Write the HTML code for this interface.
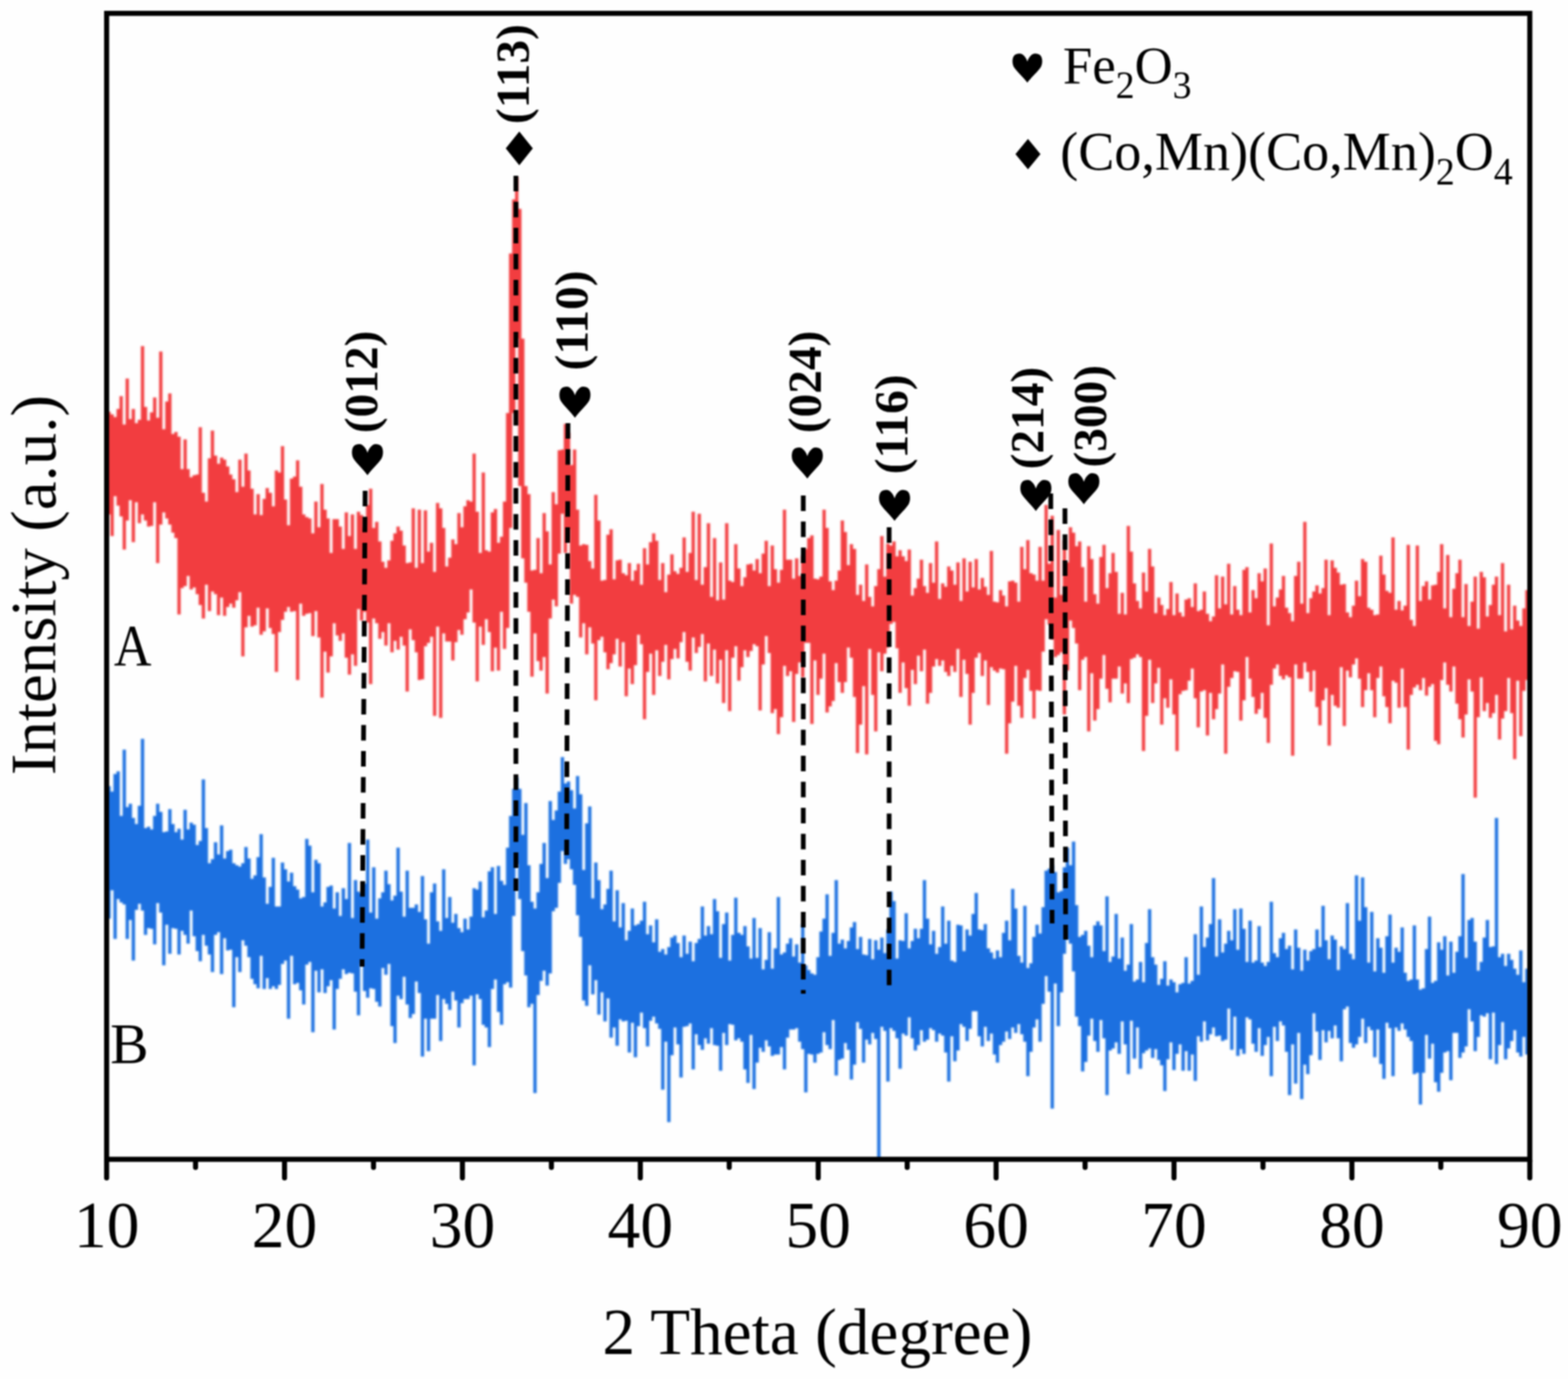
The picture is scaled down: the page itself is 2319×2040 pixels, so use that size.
<!DOCTYPE html>
<html><head><meta charset="utf-8"><title>XRD</title>
<style>html,body{margin:0;padding:0;background:#fefefe;} body{width:2319px;height:2040px;overflow:hidden;} svg{display:block;filter:blur(0.9px);}</style>
</head><body>
<svg width="2319" height="2040" viewBox="0 0 2319 2040"><defs><filter id="bl" x="-2%" y="-10%" width="104%" height="120%"><feGaussianBlur stdDeviation="1.0"/></filter></defs>
<path d="M161.2 1163V1359M165.8 1171V1317M170.2 1145V1389M174.8 1141V1330M179.2 1207V1335M183.8 1109V1338M188.2 1194V1389M192.8 1189V1361M197.2 1210V1421M201.8 1219V1346M206.2 1192V1337M210.8 1093V1347M215.2 1225V1383M219.8 1223V1373M224.2 1227V1374M228.8 1207V1397M233.2 1189V1336M237.8 1201V1350M242.2 1231V1428M246.8 1230V1368M251.2 1197V1411M255.8 1219V1373M260.2 1231V1374M264.8 1226V1412M269.2 1242V1377M273.8 1198V1383M278.2 1227V1396M282.8 1217V1347M287.2 1220V1385M291.8 1250V1407M296.2 1244V1422M300.8 1153V1383M305.2 1225V1399M309.8 1277V1412M314.2 1271V1438M318.8 1246V1383M323.2 1264V1379M327.8 1221V1441M332.2 1270V1388M336.8 1259V1406M341.2 1257V1405M345.8 1277V1490M350.2 1280V1416M354.8 1282V1438M359.2 1277V1391M363.8 1253V1399M368.2 1270V1416M372.8 1300V1448M377.2 1295V1456M381.8 1268V1462M386.2 1234V1414M390.8 1298V1463M395.2 1337V1447M399.8 1312V1463M404.2 1269V1459M408.8 1341V1463M413.2 1341V1457M417.8 1276V1426M422.2 1286V1421M426.8 1304V1507M431.2 1291V1414M435.8 1311V1456M440.2 1316V1454M444.8 1329V1465M449.2 1327V1486M453.8 1241V1427M458.2 1251V1423M462.8 1320V1527M467.2 1272V1436M471.8 1277V1468M476.2 1341V1434M480.8 1335V1469M485.2 1312V1459M489.8 1310V1450M494.2 1344V1523M498.8 1320V1463M503.2 1355V1448M507.8 1314V1434M512.2 1330V1441M516.8 1247V1439M521.2 1358V1440M525.8 1302V1467M530.2 1319V1502M534.8 1322V1426M539.2 1307V1466M543.8 1242V1476M548.2 1350V1462M552.8 1283V1463M557.2 1359V1482M561.8 1329V1489M566.2 1320V1432M570.8 1288V1442M575.2 1308V1426M579.8 1332V1518M584.2 1325V1543M588.8 1254V1473M593.2 1319V1478M597.8 1356V1445M602.2 1288V1486M606.8 1343V1506M611.2 1343V1500M615.8 1338V1452M620.2 1349V1469M624.8 1296V1563M629.2 1360V1507M633.8 1396V1555M638.2 1320V1507M642.8 1307V1507M647.2 1363V1472M651.8 1377V1540M656.2 1286V1478M660.8 1358V1485M665.2 1327V1494M669.8 1365V1467M674.2 1352V1480M678.8 1373V1520M683.2 1379V1484M687.8 1359V1478M692.2 1375V1478M696.8 1356V1473M701.2 1314V1576M705.8 1316V1471M710.2 1304V1478M714.8 1357V1516M719.2 1347V1520M723.8 1289V1549M728.2 1283V1463M732.8 1352V1449M737.2 1281V1497M741.8 1303V1516M746.2 1309V1456M750.8 1254V1453M755.2 1207V1461M759.8 1167V1355M764.2 1150V1278M768.8 1167V1330M773.2 1235V1407M777.8 1188V1443M782.2 1280V1490M786.8 1334V1485M791.2 1344V1617M795.8 1320V1472M800.2 1278V1451M804.8 1247V1436M809.2 1299V1458M813.8 1185V1440M818.2 1213V1348M822.8 1199V1343M827.2 1171V1306M831.8 1120V1259M836.2 1159V1278M840.8 1156V1271M845.2 1169V1286M849.8 1196V1309M854.2 1148V1354M858.8 1175V1386M863.2 1287V1480M867.8 1218V1488M872.2 1193V1428M876.8 1329V1471M881.2 1276V1450M885.8 1302V1501M890.2 1345V1468M894.8 1338V1511M899.2 1315V1477M903.8 1288V1535M908.2 1363V1520M912.8 1317V1547M917.2 1372V1508M921.8 1336V1511M926.2 1391V1510M930.8 1377V1557M935.2 1344V1513M939.8 1369V1564M944.2 1367V1518M948.8 1362V1498M953.2 1334V1521M957.8 1382V1548M962.2 1369V1510M966.8 1394V1504M971.2 1360V1514M975.8 1408V1522M980.2 1404V1612M984.8 1412V1541M989.2 1401V1660M993.8 1387V1561M998.2 1384V1520M1002.8 1395V1545M1007.2 1416V1594M1011.8 1384V1519M1016.2 1411V1518M1020.8 1393V1514M1025.2 1422V1582M1029.8 1395V1530M1034.2 1389V1546M1038.8 1341V1553M1043.2 1384V1536M1047.8 1370V1544M1052.2 1382V1521M1056.8 1330V1546M1061.2 1348V1547M1065.8 1417V1584M1070.2 1367V1528M1074.8 1350V1546M1079.2 1421V1515M1083.8 1383V1516M1088.2 1328V1539M1092.8 1380V1536M1097.2 1383V1541M1101.8 1370V1582M1106.2 1400V1602M1110.8 1418V1531M1115.2 1358V1611M1119.8 1417V1572M1124.2 1373V1550M1128.8 1434V1556M1133.2 1420V1539M1137.8 1379V1548M1142.2 1433V1562M1146.8 1403V1560M1151.2 1327V1560M1155.8 1412V1549M1160.2 1409V1582M1164.8 1396V1535M1169.2 1388V1523M1173.8 1415V1523M1178.2 1397V1521M1182.8 1424V1541M1187.2 1367V1552M1191.8 1428V1616M1196.2 1435V1559M1200.8 1440V1560M1205.2 1442V1572M1209.8 1416V1559M1214.2 1378V1557M1218.8 1359V1527M1223.2 1323V1546M1227.8 1414V1552M1232.2 1380V1509M1236.8 1302V1591M1241.2 1396V1568M1245.8 1390V1566M1250.2 1403V1543M1254.8 1392V1553M1259.2 1372V1597M1263.8 1364V1575M1268.2 1404V1512M1272.8 1386V1522M1277.2 1412V1572M1281.8 1413V1538M1286.2 1389V1545M1290.8 1419V1528M1295.2 1391V1537M1299.8 1405V1713M1304.2 1387V1519M1308.8 1410V1525M1313.2 1375V1600M1317.8 1319V1521M1322.2 1333V1525M1326.8 1418V1536M1331.2 1391V1581M1335.8 1392V1529M1340.2 1351V1532M1344.8 1403V1505M1349.2 1392V1536M1353.8 1374V1554M1358.2 1388V1546M1362.8 1374V1524M1367.2 1302V1541M1371.8 1359V1538M1376.2 1397V1521M1380.8 1377V1524M1385.2 1411V1541M1389.8 1401V1529M1394.2 1341V1532M1398.8 1396V1557M1403.2 1362V1600M1407.8 1421V1533M1412.2 1423V1570M1416.8 1368V1554M1421.2 1369V1515M1425.8 1407V1519M1430.2 1375V1540M1434.8 1384V1522M1439.2 1352V1496M1443.8 1321V1496M1448.2 1375V1533M1452.8 1376V1548M1457.2 1367V1519M1461.8 1403V1540M1466.2 1409V1529M1470.8 1418V1560M1475.2 1406V1572M1479.8 1416V1546M1484.2 1380V1541M1488.8 1362V1526M1493.2 1391V1537M1497.8 1315V1520M1502.2 1344V1528M1506.8 1414V1515M1511.2 1424V1530M1515.8 1340V1541M1520.2 1432V1592M1524.8 1425V1556M1529.2 1386V1520M1533.8 1368V1508M1538.2 1381V1541M1542.8 1342V1485M1547.2 1288V1444M1551.8 1285V1467M1556.2 1280V1640M1560.8 1290V1455M1565.2 1320V1518M1569.8 1318V1468M1574.2 1283V1411M1578.8 1254V1390M1583.2 1280V1396M1587.8 1245V1437M1592.2 1339V1504M1596.8 1386V1518M1601.2 1383V1585M1605.8 1377V1571M1610.2 1399V1532M1614.8 1416V1507M1619.2 1369V1540M1623.8 1363V1556M1628.2 1369V1509M1632.8 1407V1536M1637.2 1326V1620M1641.8 1423V1554M1646.2 1415V1551M1650.8 1352V1542M1655.2 1418V1559M1659.8 1387V1511M1664.2 1436V1545M1668.8 1427V1589M1673.2 1367V1510M1677.8 1452V1566M1682.2 1449V1520M1686.8 1423V1581M1691.2 1453V1558M1695.8 1395V1554M1700.2 1345V1551M1704.8 1416V1565M1709.2 1427V1552M1713.8 1457V1568M1718.2 1448V1576M1722.8 1422V1614M1727.2 1458V1567M1731.8 1449V1542M1736.2 1453V1583M1740.8 1468V1559M1745.2 1456V1545M1749.8 1454V1584M1754.2 1416V1555M1758.8 1455V1584M1763.2 1451V1560M1767.8 1382V1599M1772.2 1442V1533M1776.8 1341V1541M1781.2 1401V1511M1785.8 1387V1539M1790.2 1367V1530M1794.8 1299V1520M1799.2 1415V1533M1803.8 1360V1532M1808.2 1409V1540M1812.8 1396V1538M1817.2 1377V1492M1821.8 1391V1553M1826.2 1345V1504M1830.8 1405V1562M1835.2 1344V1552M1839.8 1374V1559M1844.2 1423V1505M1848.8 1362V1508M1853.2 1424V1544M1857.8 1421V1556M1862.2 1370V1521M1866.8 1424V1562M1871.2 1429V1546M1875.8 1423V1534M1880.2 1334V1592M1884.8 1410V1519M1889.2 1416V1540M1893.8 1388V1511M1898.2 1380V1517M1902.8 1404V1556M1907.2 1399V1620M1911.8 1434V1545M1916.2 1375V1603M1920.8 1402V1528M1925.2 1436V1626M1929.8 1405V1575M1934.2 1421V1589M1938.8 1407V1561M1943.2 1404V1499M1947.8 1375V1526M1952.2 1401V1568M1956.8 1340V1524M1961.2 1391V1542M1965.8 1419V1525M1970.2 1384V1536M1974.8 1390V1517M1979.2 1435V1536M1983.8 1400V1570M1988.2 1404V1493M1992.8 1336V1489M1997.2 1411V1543M2001.8 1419V1550M2006.2 1295V1545M2010.8 1362V1534M2015.2 1298V1507M2019.8 1342V1543M2024.2 1424V1519M2028.8 1349V1524M2033.2 1437V1564M2037.8 1388V1523M2042.2 1402V1574M2046.8 1439V1596M2051.2 1385V1513M2055.8 1353V1521M2060.2 1424V1592M2064.8 1402V1520M2069.2 1408V1525M2073.8 1372V1514M2078.2 1439V1523M2082.8 1451V1534M2087.2 1449V1540M2091.8 1369V1589M2096.2 1449V1587M2100.8 1464V1634M2105.2 1462V1587M2109.8 1404V1531M2114.2 1356V1566M2118.8 1454V1544M2123.2 1451V1601M2127.8 1394V1615M2132.2 1405V1587M2136.8 1385V1557M2141.2 1443V1555M2145.8 1393V1598M2150.2 1439V1528M2154.8 1408V1528M2159.2 1385V1565M2163.8 1293V1557M2168.2 1417V1548M2172.8 1361V1493M2177.2 1358V1511M2181.8 1393V1555M2186.2 1436V1534M2190.8 1423V1502M2195.2 1387V1504M2199.8 1361V1499M2204.2 1401V1567M2208.8 1400V1498M2213.2 1210V1574M2217.8 1416V1546M2222.2 1411V1512M2226.8 1429V1567M2231.2 1411V1551M2235.8 1420V1540M2240.2 1433V1524M2244.8 1442V1557M2249.2 1406V1563M2253.8 1453V1534M2258.2 1433V1560" stroke="#1a70e0" stroke-width="4.8" filter="url(#bl)" fill="none"/>
<path d="M161.2 609V761M165.8 613V793M170.2 617V734M174.8 605V748M179.2 586V764M183.8 628V813M188.2 560V770M192.8 620V740M197.2 605V802M201.8 626V743M206.2 621V774M210.8 512V761M215.2 602V770M219.8 622V779M224.2 610V778M228.8 588V743M233.2 618V833M237.8 520V776M242.2 635V758M246.8 594V767M251.2 582V776M255.8 642V788M260.2 639V796M264.8 646V909M269.2 694V870M273.8 650V867M278.2 694V852M282.8 706V872M287.2 703V869M291.8 702V879M296.2 632V895M300.8 729V915M305.2 742V865M309.8 678V904M314.2 637V875M318.8 674V879M323.2 686V910M327.8 677V884M332.2 680V911M336.8 690V898M341.2 702V893M345.8 709V899M350.2 728V888M354.8 680V876M359.2 720V971M363.8 671V928M368.2 696V911M372.8 723V927M377.2 761V925M381.8 731V899M386.2 762V939M390.8 738V934M395.2 722V900M399.8 729V929M404.2 749V938M408.8 696V994M413.2 699V935M417.8 660V917M422.2 739V905M426.8 777V898M431.2 708V905M435.8 705V904M440.2 681V1006M444.8 720V893M449.2 761V911M453.8 765V908M458.2 767V907M462.8 789V941M467.2 742V904M471.8 780V943M476.2 716V1032M480.8 754V964M485.2 767V995M489.8 818V971M494.2 768V922M498.8 768V940M503.2 779V948M507.8 812V937M512.2 758V973M516.8 793V998M521.2 761V968M525.8 812V985M530.2 757V901M534.8 762V918M539.2 781V905M543.8 747V921M548.2 723V1012M552.8 781V915M557.2 772V922M561.8 801V945M566.2 831V935M570.8 840V955M575.2 829V922M579.8 800V965M584.2 789V948M588.8 779V961M593.2 785V942M597.8 807V955M602.2 833V1023M606.8 832V931M611.2 752V947M615.8 840V965M620.2 754V1006M624.8 833V1005M629.2 755V956M633.8 816V951M638.2 803V942M642.8 846V1059M647.2 744V927M651.8 752V1062M656.2 781V937M660.8 838V949M665.2 825V949M669.8 798V977M674.2 805V950M678.8 759V932M683.2 780V939M687.8 749V916M692.2 740V906M696.8 742V872M701.2 671V921M705.8 757V1008M710.2 818V927M714.8 699V954M719.2 814V916M723.8 816V935M728.2 758V993M732.8 753V958M737.2 803V992M741.8 794V905M746.2 742V960M750.8 611V929M755.2 375V781M759.8 295V611M764.2 262V501M768.8 309V719M773.2 501V826M777.8 719V862M782.2 731V905M786.8 844V1001M791.2 843V937M795.8 796V978M800.2 848V992M804.8 759V972M809.2 786V1026M813.8 835V915M818.2 728V887M822.8 746V897M827.2 666V819M831.8 665V760M836.2 627V818M840.8 640V783M845.2 688V893M849.8 665V880M854.2 754V883M858.8 807V943M863.2 805V922M867.8 806V968M872.2 830V928M876.8 841V952M881.2 732V1036M885.8 770V947M890.2 859V942M894.8 858V965M899.2 791V990M903.8 783V981M908.2 857V968M912.8 829V945M917.2 828V986M921.8 848V950M926.2 851V1030M930.8 833V989M935.2 859V1012M939.8 844V984M944.2 834V939M948.8 865V953M953.2 811V1064M957.8 835V994M962.2 802V967M966.8 789V1028M971.2 800V962M975.8 858V1000M980.2 833V979M984.8 876V954M989.2 850V1005M993.8 820V975M998.2 845V960M1002.8 849V974M1007.2 840V950M1011.8 795V935M1016.2 846V979M1020.8 818V992M1025.2 757V943M1029.8 858V966M1034.2 760V957M1038.8 865V938M1043.2 839V1008M1047.8 774V952M1052.2 883V1000M1056.8 796V961M1061.2 888V1011M1065.8 832V976M1070.2 887V1040M1074.8 774V962M1079.2 859V1052M1083.8 861V973M1088.2 805V956M1092.8 841V1007M1097.2 867V987M1101.8 854V962M1106.2 835V972M1110.8 834V963M1115.2 844V953M1119.8 827V956M1124.2 848V1051M1128.8 819V983M1133.2 800V941M1137.8 867V966M1142.2 807V1055M1146.8 842V1049M1151.2 862V1086M1155.8 843V1061M1160.2 754V985M1164.8 828V1000M1169.2 828V993M1173.8 856V1068M1178.2 826V997M1182.8 852V980M1187.2 822V1002M1191.8 812V951M1196.2 796V951M1200.8 792V1071M1205.2 856V977M1209.8 857V1028M1214.2 853V1004M1218.8 754V967M1223.2 781V1054M1227.8 860V1045M1232.2 873V1037M1236.8 859V981M1241.2 844V1009M1245.8 770V1025M1250.2 787V1009M1254.8 836V958M1259.2 805V973M1263.8 812V1031M1268.2 880V1114M1272.8 865V1072M1277.2 889V1015M1281.8 835V1116M1286.2 883V960M1290.8 897V1028M1295.2 867V1082M1299.8 842V965M1304.2 793V993M1308.8 853V967M1313.2 804V958M1317.8 807V923M1322.2 801V920M1326.8 823V959M1331.2 814V1025M1335.8 823V980M1340.2 830V1018M1344.8 813V1044M1349.2 881V991M1353.8 870V1012M1358.2 856V970M1362.8 828V993M1367.2 867V961M1371.8 877V1041M1376.2 833V1025M1380.8 862V986M1385.2 801V975M1389.8 886V985M1394.2 863V977M1398.8 868V994M1403.2 838V1000M1407.8 844V985M1412.2 865V994M1416.8 832V960M1421.2 889V1031M1425.8 826V976M1430.2 875V997M1434.8 831V1072M1439.2 869V1025M1443.8 827V973M1448.2 872V966M1452.8 855V1000M1457.2 868V977M1461.8 880V1043M1466.2 815V987M1470.8 890V992M1475.2 891V995M1479.8 873V989M1484.2 881V990M1488.8 897V1115M1493.2 860V1070M1497.8 859V1038M1502.2 862V985M1506.8 890V1044M1511.2 809V1062M1515.8 842V1003M1520.2 799V991M1524.8 848V1022M1529.2 850V1063M1533.8 859V1021M1538.2 809V1022M1542.8 859V964M1547.2 747V916M1551.8 834V924M1556.2 763V946M1560.8 884V972M1565.2 784V969M1569.8 880V965M1574.2 799V1057M1578.8 832V992M1583.2 780V918M1587.8 788V929M1592.2 808V952M1596.8 801V1021M1601.2 839V976M1605.8 890V972M1610.2 808V1082M1614.8 827V996M1619.2 879V1066M1623.8 893V1049M1628.2 824V1004M1632.8 806V969M1637.2 870V1019M1641.8 848V1039M1646.2 818V1004M1650.8 846V1004M1655.2 908V986M1659.8 877V1026M1664.2 909V1011M1668.8 778V1040M1673.2 816V975M1677.8 863V973M1682.2 889V968M1686.8 900V972M1691.2 847V1111M1695.8 875V1059M1700.2 812V976M1704.8 838V1040M1709.2 907V1011M1713.8 884V988M1718.2 895V1072M1722.8 910V1033M1727.2 901V1047M1731.8 861V1005M1736.2 910V1057M1740.8 878V1111M1745.2 906V1027M1749.8 912V1022M1754.2 887V1021M1758.8 885V1007M1763.2 898V989M1767.8 863V1033M1772.2 904V1076M1776.8 902V1023M1781.2 875V1021M1785.8 908V1088M1790.2 919V1025M1794.8 912V1064M1799.2 851V1049M1803.8 900V1026M1808.2 853V983M1812.8 894V1115M1817.2 834V1016M1821.8 909V1003M1826.2 867V993M1830.8 902V994M1835.2 910V1066M1839.8 843V1036M1844.2 839V972M1848.8 906V1004M1853.2 873V1031M1857.8 885V1056M1862.2 848V1049M1866.8 860V1025M1871.2 841V1062M1875.8 925V1099M1880.2 804V1013M1884.8 897V989M1889.2 884V983M1893.8 872V1000M1898.2 852V1005M1902.8 899V999M1907.2 907V1002M1911.8 919V1118M1916.2 852V983M1920.8 831V1004M1925.2 893V1004M1929.8 772V980M1934.2 907V994M1938.8 885V1023M1943.2 875V992M1947.8 866V1046M1952.2 878V1073M1956.8 870V1036M1961.2 828V1018M1965.8 910V1103M1970.2 829V1028M1974.8 840V1044M1979.2 847V1047M1983.8 865V987M1988.2 864V1074M1992.8 906V992M1997.2 913V1002M2001.8 896V983M2006.2 859V974M2010.8 882V1004M2015.2 827V1046M2019.8 831V1021M2024.2 899V996M2028.8 902V1021M2033.2 910V1061M2037.8 909V1003M2042.2 822V986M2046.8 850V1030M2051.2 874V1046M2055.8 877V1070M2060.2 795V1007M2064.8 902V1010M2069.2 889V1047M2073.8 903V989M2078.2 896V1046M2082.8 806V1109M2087.2 917V1028M2091.8 926V1017M2096.2 807V1013M2100.8 889V1021M2105.2 867V1003M2109.8 860V1029M2114.2 887V1016M2118.8 866V1012M2123.2 865V1096M2127.8 846V1101M2132.2 805V1006M2136.8 900V980M2141.2 821V1013M2145.8 913V1023M2150.2 871V986M2154.8 848V1041M2159.2 828V1064M2163.8 913V1091M2168.2 864V1057M2172.8 926V1005M2177.2 890V1023M2181.8 853V1180M2186.2 930V1061M2190.8 846V1002M2195.2 854V1052M2199.8 912V1040M2204.2 895V1062M2208.8 865V1055M2213.2 853V1028M2217.8 910V1094M2222.2 833V1063M2226.8 934V1052M2231.2 865V1003M2235.8 931V1055M2240.2 896V1123M2244.8 918V1007M2249.2 926V1089M2253.8 900V1022M2258.2 873V1006" stroke="#f23d40" stroke-width="4.8" filter="url(#bl)" fill="none"/>
<line x1="540" y1="726" x2="535.5" y2="1430" stroke="#000" stroke-width="7" stroke-dasharray="23 15.5"/>
<line x1="763" y1="260" x2="763" y2="1318" stroke="#000" stroke-width="7" stroke-dasharray="23 15.5"/>
<line x1="840" y1="626" x2="838" y2="1278" stroke="#000" stroke-width="7" stroke-dasharray="23 15.5"/>
<line x1="1188" y1="733" x2="1188" y2="1470" stroke="#000" stroke-width="7" stroke-dasharray="23 15.5"/>
<line x1="1315" y1="780" x2="1315" y2="1461" stroke="#000" stroke-width="7" stroke-dasharray="23 15.5"/>
<line x1="1554" y1="730" x2="1556" y2="1366" stroke="#000" stroke-width="7" stroke-dasharray="23 15.5"/>
<line x1="1575" y1="752" x2="1576" y2="1390" stroke="#000" stroke-width="7" stroke-dasharray="23 15.5"/>
<rect x="157.7" y="19.75" width="2104.8" height="1695.25" fill="none" stroke="#000" stroke-width="7.5"/>
<line x1="157.7" y1="1717.0" x2="157.7" y2="1742.5" stroke="#000" stroke-width="7.5" stroke-linecap="round"/>
<line x1="289.2" y1="1717.0" x2="289.2" y2="1727.0" stroke="#000" stroke-width="7.5" stroke-linecap="round"/>
<line x1="420.8" y1="1717.0" x2="420.8" y2="1742.5" stroke="#000" stroke-width="7.5" stroke-linecap="round"/>
<line x1="552.4" y1="1717.0" x2="552.4" y2="1727.0" stroke="#000" stroke-width="7.5" stroke-linecap="round"/>
<line x1="683.9" y1="1717.0" x2="683.9" y2="1742.5" stroke="#000" stroke-width="7.5" stroke-linecap="round"/>
<line x1="815.5" y1="1717.0" x2="815.5" y2="1727.0" stroke="#000" stroke-width="7.5" stroke-linecap="round"/>
<line x1="947.0" y1="1717.0" x2="947.0" y2="1742.5" stroke="#000" stroke-width="7.5" stroke-linecap="round"/>
<line x1="1078.5" y1="1717.0" x2="1078.5" y2="1727.0" stroke="#000" stroke-width="7.5" stroke-linecap="round"/>
<line x1="1210.1" y1="1717.0" x2="1210.1" y2="1742.5" stroke="#000" stroke-width="7.5" stroke-linecap="round"/>
<line x1="1341.7" y1="1717.0" x2="1341.7" y2="1727.0" stroke="#000" stroke-width="7.5" stroke-linecap="round"/>
<line x1="1473.2" y1="1717.0" x2="1473.2" y2="1742.5" stroke="#000" stroke-width="7.5" stroke-linecap="round"/>
<line x1="1604.8" y1="1717.0" x2="1604.8" y2="1727.0" stroke="#000" stroke-width="7.5" stroke-linecap="round"/>
<line x1="1736.3" y1="1717.0" x2="1736.3" y2="1742.5" stroke="#000" stroke-width="7.5" stroke-linecap="round"/>
<line x1="1867.9" y1="1717.0" x2="1867.9" y2="1727.0" stroke="#000" stroke-width="7.5" stroke-linecap="round"/>
<line x1="1999.4" y1="1717.0" x2="1999.4" y2="1742.5" stroke="#000" stroke-width="7.5" stroke-linecap="round"/>
<line x1="2130.9" y1="1717.0" x2="2130.9" y2="1727.0" stroke="#000" stroke-width="7.5" stroke-linecap="round"/>
<line x1="2262.5" y1="1717.0" x2="2262.5" y2="1742.5" stroke="#000" stroke-width="7.5" stroke-linecap="round"/>
<text x="157.7" y="1845" text-anchor="middle" style="font-family:'Liberation Serif','Times New Roman',serif;font-size:97px">10</text>
<text x="420.8" y="1845" text-anchor="middle" style="font-family:'Liberation Serif','Times New Roman',serif;font-size:97px">20</text>
<text x="683.9" y="1845" text-anchor="middle" style="font-family:'Liberation Serif','Times New Roman',serif;font-size:97px">30</text>
<text x="947.0" y="1845" text-anchor="middle" style="font-family:'Liberation Serif','Times New Roman',serif;font-size:97px">40</text>
<text x="1210.1" y="1845" text-anchor="middle" style="font-family:'Liberation Serif','Times New Roman',serif;font-size:97px">50</text>
<text x="1473.2" y="1845" text-anchor="middle" style="font-family:'Liberation Serif','Times New Roman',serif;font-size:97px">60</text>
<text x="1736.3" y="1845" text-anchor="middle" style="font-family:'Liberation Serif','Times New Roman',serif;font-size:97px">70</text>
<text x="1999.4" y="1845" text-anchor="middle" style="font-family:'Liberation Serif','Times New Roman',serif;font-size:97px">80</text>
<text x="2262.5" y="1845" text-anchor="middle" style="font-family:'Liberation Serif','Times New Roman',serif;font-size:97px">90</text>
<text x="891" y="2003" style="font-family:'Liberation Serif','Times New Roman',serif;font-size:96.5px">2 Theta (degree)</text>
<text transform="translate(81.5,865.5) rotate(-90)" text-anchor="middle" style="font-family:'Liberation Serif','Times New Roman',serif;font-size:96px">Intensity (a.u.)</text>
<text x="168.5" y="983.5" textLength="55.5" lengthAdjust="spacingAndGlyphs" style="font-family:'Liberation Serif','Times New Roman',serif;font-size:86px">A</text>
<text x="163" y="1573" style="font-family:'Liberation Serif','Times New Roman',serif;font-size:85px">B</text>
<path d="M23,46.3 C17.5,38.5 6.5,28.5 2.2,21.5 C-1,15.5 -0.6,6.5 3,2.8 C6,-0.3 12,-0.8 15.5,1.5 C19,4 21.5,8 23,12.8 C24.5,8 27,4 30.5,1.5 C34,-0.8 40,-0.3 43,2.8 C46.6,6.5 47,15.5 43.8,21.5 C39.5,28.5 28.5,38.5 23,46.3 Z" transform="translate(1497.4,79.2) scale(0.957,0.929)" fill="#000"/>
<text x="1572" y="123" style="font-family:'Liberation Serif','Times New Roman',serif;font-size:78px">Fe<tspan dy="22" font-size="56">2</tspan><tspan dy="-22">O</tspan><tspan dy="22" font-size="56">3</tspan></text>
<path d="M1520.3,205.5 L1538.8,228.0 L1520.3,250.5 L1501.8,228.0 Z" fill="#000"/>
<text x="1568" y="250.5" style="font-family:'Liberation Serif','Times New Roman',serif;font-size:80px">(Co,Mn)(Co,Mn)<tspan dy="22" font-size="56">2</tspan><tspan dy="-22">O</tspan><tspan dy="22" font-size="56">4</tspan></text>
<text transform="translate(558.4,565) rotate(-90)" text-anchor="middle" style="font-family:'Liberation Serif','Times New Roman',serif;font-weight:bold;font-size:70px">(012)</text>
<text transform="translate(782,109.5) rotate(-90)" text-anchor="middle" style="font-family:'Liberation Serif','Times New Roman',serif;font-weight:bold;font-size:70px">(113)</text>
<text transform="translate(869.2,474) rotate(-90)" text-anchor="middle" style="font-family:'Liberation Serif','Times New Roman',serif;font-weight:bold;font-size:70px">(110)</text>
<text transform="translate(1214,565) rotate(-90)" text-anchor="middle" style="font-family:'Liberation Serif','Times New Roman',serif;font-weight:bold;font-size:70px">(024)</text>
<text transform="translate(1341.5,627.7) rotate(-90)" text-anchor="middle" style="font-family:'Liberation Serif','Times New Roman',serif;font-weight:bold;font-size:70px">(116)</text>
<text transform="translate(1543.3,618.4) rotate(-90)" text-anchor="middle" style="font-family:'Liberation Serif','Times New Roman',serif;font-weight:bold;font-size:70px">(214)</text>
<text transform="translate(1636,615.7) rotate(-90)" text-anchor="middle" style="font-family:'Liberation Serif','Times New Roman',serif;font-weight:bold;font-size:70px">(300)</text>
<path d="M23,46.3 C17.5,38.5 6.5,28.5 2.2,21.5 C-1,15.5 -0.6,6.5 3,2.8 C6,-0.3 12,-0.8 15.5,1.5 C19,4 21.5,8 23,12.8 C24.5,8 27,4 30.5,1.5 C34,-0.8 40,-0.3 43,2.8 C46.6,6.5 47,15.5 43.8,21.5 C39.5,28.5 28.5,38.5 23,46.3 Z" transform="translate(520.5,657.0) scale(1.000,0.994)" fill="#000"/>
<path d="M23,46.3 C17.5,38.5 6.5,28.5 2.2,21.5 C-1,15.5 -0.6,6.5 3,2.8 C6,-0.3 12,-0.8 15.5,1.5 C19,4 21.5,8 23,12.8 C24.5,8 27,4 30.5,1.5 C34,-0.8 40,-0.3 43,2.8 C46.6,6.5 47,15.5 43.8,21.5 C39.5,28.5 28.5,38.5 23,46.3 Z" transform="translate(827.3,572.0) scale(1.000,0.994)" fill="#000"/>
<path d="M23,46.3 C17.5,38.5 6.5,28.5 2.2,21.5 C-1,15.5 -0.6,6.5 3,2.8 C6,-0.3 12,-0.8 15.5,1.5 C19,4 21.5,8 23,12.8 C24.5,8 27,4 30.5,1.5 C34,-0.8 40,-0.3 43,2.8 C46.6,6.5 47,15.5 43.8,21.5 C39.5,28.5 28.5,38.5 23,46.3 Z" transform="translate(1171.0,662.0) scale(1.000,0.994)" fill="#000"/>
<path d="M23,46.3 C17.5,38.5 6.5,28.5 2.2,21.5 C-1,15.5 -0.6,6.5 3,2.8 C6,-0.3 12,-0.8 15.5,1.5 C19,4 21.5,8 23,12.8 C24.5,8 27,4 30.5,1.5 C34,-0.8 40,-0.3 43,2.8 C46.6,6.5 47,15.5 43.8,21.5 C39.5,28.5 28.5,38.5 23,46.3 Z" transform="translate(1300.0,724.6) scale(1.000,0.994)" fill="#000"/>
<path d="M23,46.3 C17.5,38.5 6.5,28.5 2.2,21.5 C-1,15.5 -0.6,6.5 3,2.8 C6,-0.3 12,-0.8 15.5,1.5 C19,4 21.5,8 23,12.8 C24.5,8 27,4 30.5,1.5 C34,-0.8 40,-0.3 43,2.8 C46.6,6.5 47,15.5 43.8,21.5 C39.5,28.5 28.5,38.5 23,46.3 Z" transform="translate(1509.0,710.0) scale(1.000,0.994)" fill="#000"/>
<path d="M23,46.3 C17.5,38.5 6.5,28.5 2.2,21.5 C-1,15.5 -0.6,6.5 3,2.8 C6,-0.3 12,-0.8 15.5,1.5 C19,4 21.5,8 23,12.8 C24.5,8 27,4 30.5,1.5 C34,-0.8 40,-0.3 43,2.8 C46.6,6.5 47,15.5 43.8,21.5 C39.5,28.5 28.5,38.5 23,46.3 Z" transform="translate(1580.0,700.0) scale(1.000,0.994)" fill="#000"/>
<path d="M768.0,194.4 L788.0,219.4 L768.0,244.4 L748.0,219.4 Z" fill="#000"/></svg>
</body></html>
